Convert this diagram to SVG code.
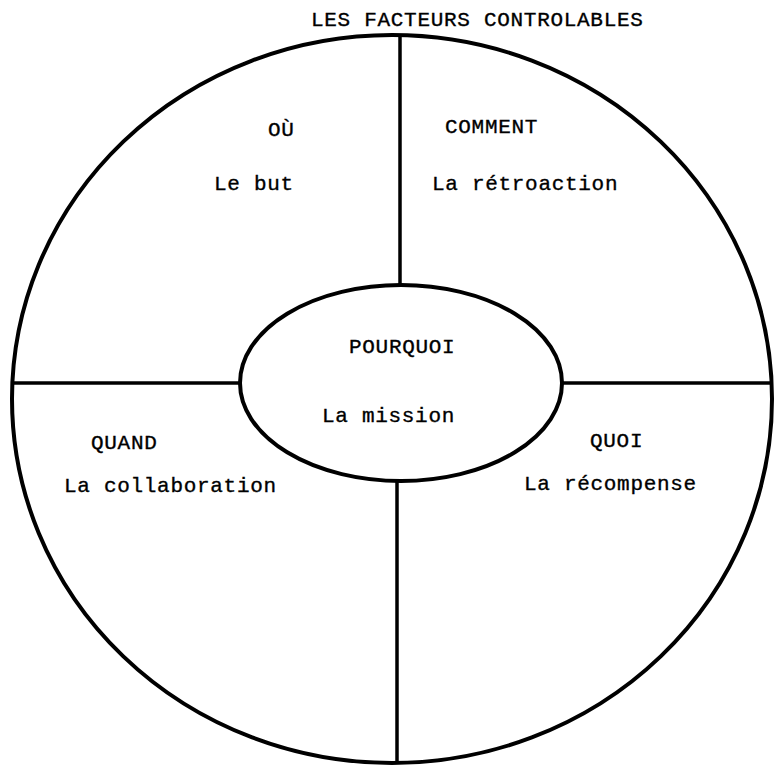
<svg xmlns="http://www.w3.org/2000/svg" width="774" height="765" viewBox="0 0 774 765">
  <style>
    .ring { fill: none; stroke: #000; stroke-width: 4; }
    .divider { stroke: #000; stroke-width: 3.5; fill: none; }
    text { font-family: "Liberation Mono", "DejaVu Sans Mono", monospace; font-size: 21px; fill: #000; letter-spacing: 0.7px; stroke: #000; stroke-width: 0.35px; }
  </style>
  <rect width="774" height="765" fill="#fff"/>

  <text id="title" x="311" y="26">LES FACTEURS CONTROLABLES</text>

  <!-- outer wheel -->
  <g id="wheel">
    <ellipse class="ring" cx="392" cy="399" rx="380" ry="364"/>
  </g>

  <!-- spokes dividing the wheel into quadrants -->
  <g id="connectors">
    <line class="divider" x1="400" y1="35" x2="400" y2="286"/>
    <line class="divider" x1="397" y1="481" x2="397" y2="763"/>
    <line class="divider" x1="12" y1="383" x2="241" y2="383"/>
    <line class="divider" x1="561" y1="383" x2="772" y2="383"/>
  </g>

  <g id="ou">
    <text x="268" y="136">OÙ</text>
    <text x="214" y="190">Le but</text>
  </g>

  <g id="comment">
    <text x="445" y="133">COMMENT</text>
    <text x="432" y="190">La rétroaction</text>
  </g>

  <g id="pourquoi">
    <ellipse class="ring" cx="401" cy="383" rx="161" ry="98"/>
    <text x="349" y="353">POURQUOI</text>
    <text x="322" y="422">La mission</text>
  </g>

  <g id="quand">
    <text x="91" y="449">QUAND</text>
    <text x="64" y="492">La collaboration</text>
  </g>

  <g id="quoi">
    <text x="590" y="447">QUOI</text>
    <text x="524" y="490">La récompense</text>
  </g>
</svg>
